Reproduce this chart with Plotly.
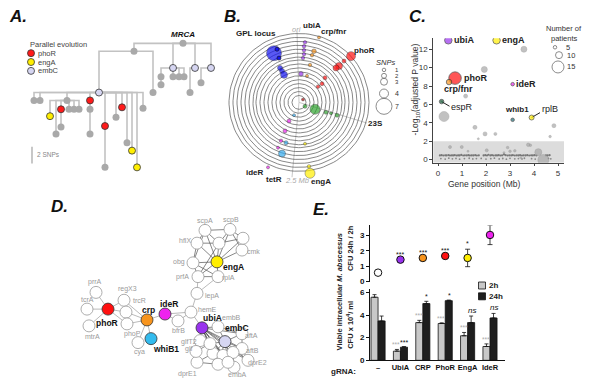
import plotly.graph_objects as go
import numpy as np

FONT = "Liberation Sans, Arial, sans-serif"

# ---------------- Panel A : phylogeny (pixel layout) ----------------
tree_x = [183, 134, 173, 195, 211, 99, 153, 161, 161, 173, 179, 184, 190, 201,
          34, 40, 67, 50, 56, 61, 61, 69, 74, 79, 90, 90, 90, 105, 105, 116, 122, 127, 132, 137, 143]
tree_y = [43, 51, 68, 68, 68, 93, 93, 77, 85, 77, 77, 77, 93, 83,
          101, 101, 101, 117, 135, 110, 128, 110, 110, 110, 101, 110, 135, 127, 169, 118, 108, 144, 152, 169, 109]
tree_parent = [-1, 0, 0, 0, 0, 1, 1, 2, 7, 2, 2, 2, 3, 4,
               5, 5, 5, 16, 16, 16, 19, 16, 16, 16, 5, 24, 25, 5, 27, 5, 5, 5, 5, 5, 5]
tree_kind = ['g', 'g', 'l', 'l', 'l', 'l', 'g', 'g', 'g', 'g', 'g', 'g', 'g', 'g',
             'g', 'g', 'g', 'y', 'g', 'r', 'g', 'g', 'g', 'g', 'r', 'g', 'g', 'r', 'g', 'g', 'r', 'g', 'y', 'y', 'g']
KIND_COL = {'g': '#a9a9a9', 'r': '#ff1a1a', 'y': '#ffee00', 'l': '#d6d6f2'}
legendA_names = ['phoR', 'engA', 'embC']
legendA_kind = ['r', 'y', 'l']

# ---------------- Panel B : circular genome plot ----------------
ring_radii = [7, 11, 15, 19, 23, 27, 31, 35, 39, 43, 46, 50, 54, 58, 62, 66, 70]
B_center = (299, 103)
B_radial_end_x = [297, 292, 367]
B_radial_end_y = [31, 179, 124]
B_px = [274, 280, 282, 284, 305, 304, 304, 304, 303, 301, 319, 314, 312, 310, 307,
        351, 344, 339, 336, 325, 322, 318, 303, 305, 315, 326, 331, 337, 294, 286, 282,
        289, 285, 281, 278, 268, 305, 309, 310]
B_py = [53, 68, 71, 75, 42, 46, 50, 54, 58, 74, 37, 51, 55, 65, 76,
        56, 61, 66, 68, 78, 84, 87, 100, 107, 110, 113, 114, 116, 116, 144, 155,
        122, 132, 142, 149, 169, 145, 168, 175]
B_size = [15, 5, 5, 7, 3.5, 3.5, 3.5, 3.5, 3.5, 4.5, 3, 4.5, 3.5, 3.5, 3,
          9, 4, 7, 6, 4, 4, 3.5, 3, 4, 10, 4, 3, 4, 3, 4, 7,
          4, 4, 3.5, 3, 3, 3, 3.5, 10]
B_col = ['#1414f0'] * 4 + ['#9933ee'] * 6 + ['#f7941d'] * 5 + ['#ff1010'] * 7 + ['#aa0000'] + \
        ['#2ea32e'] * 5 + ['#33aaee'] * 3 + ['#ee22ee'] * 5 + ['#ffee00'] * 3
snp_levels = ['1', '2', '3', '4', '7']
snp_sizes = [3.5, 5, 7, 9, 16]
snp_y = [70, 76, 82, 94, 107]

# ---------------- Panel C : scatter ----------------
c_lab_name = ['ubiA', 'engA', 'phoR', 'crp/fnr', 'ideR', 'espR', 'whib1', 'rplB']
c_lab_x = [0.43, 2.44, 0.71, 0.46, 3.11, 0.15, 3.11, 3.90]
c_lab_y = [12.97, 12.97, 8.86, 8.43, 8.2, 6.3, 4.32, 4.57]
c_lab_size = [7.5, 7.5, 12.5, 5.5, 3.5, 4.5, 3.5, 5]
c_lab_col = ['#9933ee', '#ffee00', '#ff1010', '#f7941d', '#ee22ee', '#1a5c3a', '#1f6f7a', '#ffee00']
c_gray_x = [3.58, 1.93, 1.15, 0.25, 4.83, 1.54, 1.96, 2.39, 4.67, 1.68,
            0.50, 0.99, 2.03, 3.76, 3.85, 4.18, 4.39, 2.90, 3.00, 3.20, 2.75, 1.25, 3.45]
c_gray_y = [12.0, 9.8, 6.9, 4.68, 3.68, 3.5, 2.79, 2.79, 2.5, 2.25,
            1.36, 1.36, 1.0, 1.6, 1.55, 0.8, -0.05, 1.3, 0.9, 0.95, 0.75, 0.9, 0.2]
c_gray_size = [6, 6, 4, 10, 4, 4, 4, 3, 2.5, 2,
               3, 3, 3, 3.5, 2.5, 7, 11, 2.5, 2.5, 2.5, 2, 2, 2]
c_row1_x = [0.08, 0.15, 0.22, 0.30, 0.36, 0.44, 0.50, 0.57, 0.63, 0.70, 0.78, 0.84, 0.90, 0.97,
            1.05, 1.12, 1.20, 1.27, 1.33, 1.40, 1.47, 1.55, 1.62, 1.70, 1.90, 1.97, 2.04, 2.10,
            2.18, 2.25, 2.32, 2.40, 2.46, 2.53, 2.60, 2.67, 2.75, 2.82, 2.90, 2.97, 3.05, 3.12,
            3.20, 3.28, 3.35, 3.42, 3.50, 3.57, 3.65, 3.72, 3.80, 3.88, 3.95, 4.02, 4.10, 4.50,
            4.57, 4.65]
c_row1_y = [0.45, 0.47, 0.44, 0.46, 0.45, 0.48, 0.44, 0.46, 0.45, 0.47, 0.44, 0.46, 0.45, 0.50,
            0.44, 0.46, 0.45, 0.47, 0.44, 0.46, 0.45, 0.47, 0.44, 0.46, 0.45, 0.47, 0.44, 0.52,
            0.45, 0.47, 0.44, 0.46, 0.45, 0.47, 0.44, 0.46, 0.55, 0.47, 0.44, 0.46, 0.45, 0.47,
            0.44, 0.46, 0.45, 0.47, 0.44, 0.46, 0.45, 0.47, 0.44, 0.46, 0.45, 0.47, 0.44, 0.46,
            0.45, 0.47]
c_row2_x = [0.12, 0.30, 0.45, 0.60, 0.75, 0.90, 1.10, 1.30, 1.45, 1.60, 1.80, 2.00, 2.20, 2.35,
            2.55, 2.70, 2.85, 3.00, 3.20, 3.35, 3.50, 3.60, 3.90, 4.05, 4.60, 4.70]
c_row2_y = [0.10, 0.05, 0.15, 0.08, 0.12, 0.04, 0.10, 0.14, 0.06, 0.10, 0.12, 0.05, 0.09, 0.15,
            0.07, 0.11, 0.04, 0.13, 0.08, 0.10, 0.06, 0.14, 0.09, 0.05, 0.12, 0.08]
pat_levels = ['5', '10', '15']
pat_sizes = [3.5, 7, 12]
pat_y = [47, 55, 67]

# ---------------- Panel D : network (pixel layout) ----------------
d_name = ['phoR', 'prrA', 'tcrA', 'mtrA', 'regX3', 'trcR', 'phoP', 'crp', 'cya', 'whiB1',
          'ideR', 'bfrB', 'hemE', 'ubiA', 'lepA', 'prfA', 'rplA', 'obg', 'engA', 'hflX',
          'scpA', 'scpB', 'cmk', 'k1', 'k2', 'embB', 'embC', 'aftA', 'aftB', 'dprE2',
          'embA', 'dprE1', 'glfT2', 'glf', 'h1', 'h2', 'h3', 'h4', 'h5', 'h6']
d_x = [108, 96, 87, 89, 124, 126, 127, 147, 138, 151,
       165, 178, 191, 202, 197, 198, 218, 193, 217, 197,
       205, 230, 242, 219, 243, 218, 225, 242, 242, 248,
       234, 197, 200, 196, 213, 223, 233, 218, 228, 210]
d_y = [313, 296, 313, 330, 304, 316, 328, 324, 347, 343,
       318, 325, 316, 332, 297, 280, 280, 266, 265, 246,
       233, 232, 253, 246, 241, 331, 346, 338, 353, 365,
       372, 367, 345, 356, 358, 360, 357, 369, 367, 348]
d_col = ['#ff1010', None, None, None, None, None, None, '#f7941d', None, '#33bbee',
         '#ee22ee', None, None, '#9933ee', None, None, None, None, '#ffee00', None,
         None, None, None, None, None, None, '#d6d6f2', None, None, None,
         None, None, None, None, None, None, None, None, None, None]
d_lx = [107, 95, 87, 92, 127, 139, 132, 148, 139, 166,
        169, 178, 207, 212, 212, 182, 228, 179, 233, 185,
        205, 231, 253, None, None, 231, 237, 251, 252, 257,
        237, 187, 189, 188, None, None, None, None, None, None]
d_ly = [327, 285, 303, 341, 293, 304, 338, 314, 357, 353,
        308, 335, 313, 322, 300, 280, 281, 265, 270, 243,
        223, 222, 254, None, None, 322, 332, 340, 355, 368,
        379, 379, 346, 353, None, None, None, None, None, None]
d_edges_light = [('phoR', 'prrA'), ('phoR', 'tcrA'), ('phoR', 'mtrA'), ('phoR', 'regX3'),
                 ('phoR', 'trcR'), ('phoR', 'phoP'), ('crp', 'trcR'), ('crp', 'phoP'),
                 ('crp', 'regX3'), ('crp', 'cya'), ('crp', 'whiB1'), ('crp', 'ideR'),
                 ('ideR', 'bfrB'), ('ideR', 'hemE'), ('bfrB', 'hemE'), ('hemE', 'ubiA'),
                 ('hemE', 'lepA'), ('lepA', 'prfA'), ('lepA', 'rplA'), ('ubiA', 'glfT2'),
                 ('ubiA', 'glf'), ('ubiA', 'dprE1'), ('glf', 'dprE1'), ('glf', 'glfT2')]
d_edges_dark = [('prfA', 'obg'), ('prfA', 'engA'), ('prfA', 'rplA'), ('obg', 'engA'), ('obg', 'hflX'),
                ('hflX', 'engA'), ('hflX', 'scpA'), ('scpA', 'engA'), ('scpA', 'scpB'), ('scpB', 'engA'),
                ('scpB', 'k2'), ('k2', 'cmk'), ('cmk', 'engA'), ('k1', 'engA'), ('k1', 'scpA'),
                ('k1', 'scpB'), ('k1', 'k2'), ('k1', 'hflX'), ('rplA', 'engA'), ('obg', 'scpA'),
                ('engA', 'k2'), ('prfA', 'k1'), ('obg', 'rplA'), ('scpB', 'cmk'),
                ('ubiA', 'embC'), ('ubiA', 'embB'), ('ubiA', 'aftA'), ('ubiA', 'aftB'), ('ubiA', 'dprE2'),
                ('ubiA', 'embA'), ('ubiA', 'h1'), ('ubiA', 'h2'), ('ubiA', 'h3'), ('ubiA', 'h4'),
                ('ubiA', 'h5'), ('ubiA', 'h6'), ('embC', 'embB'), ('embC', 'aftA'), ('embC', 'aftB'),
                ('embC', 'dprE2'), ('embC', 'embA'), ('embC', 'h1'), ('embC', 'h4'), ('embC', 'h5'),
                ('embC', 'h6'), ('h1', 'h2'), ('h2', 'h3'), ('h3', 'h5'), ('h4', 'h5'), ('h1', 'h4'),
                ('h2', 'h5'), ('h6', 'h1'), ('h6', 'h2'), ('h3', 'aftB'), ('h5', 'embA'), ('h4', 'embA'),
                ('h3', 'dprE2'), ('h1', 'dprE1'), ('aftA', 'aftB'), ('aftB', 'dprE2'), ('embB', 'aftA'),
                ('h2', 'embA'), ('h3', 'embA'), ('h4', 'dprE1'), ('h6', 'glf'), ('h2', 'aftB')]

# ---------------- Panel E : knock-down ----------------
e_cats = ['–', 'UbiA', 'CRP', 'PhoR', 'EngA', 'IdeR']
e_ratio = [0.58, 1.43, 1.54, 1.67, 1.54, 3.04]
e_ratio_err = [0, 0, 0, 0, 0.57, 0.63]
e_ratio_col = ['white', '#9933ee', '#f7941d', '#ff1010', '#ffee00', '#ee22ee']
e_ratio_sig = ['', '***', '***', '***', '*', '***']
e_2h = [5.57, 0.81, 3.33, 3.25, 2.17, 1.22]
e_2h_err = [0.23, 0.15, 0.2, 0.06, 0.29, 0.23]
e_24h = [3.48, 1.16, 5.01, 5.27, 3.33, 3.74]
e_24h_err = [0.43, 0.05, 0.2, 0.05, 0.58, 0.4]
e_2h_sig = ['', '***', '***', '***', '***', '***']
e_24h_sig = ['', '***', '*', '*', '<i>ns</i>', '<i>ns</i>']

# ======================================================================
fig = go.Figure()
ann = []


def T(x, y, text, size=8, color='#222', xa='center', ya='middle', angle=0,
      xref='x', yref='y', xshift=0, yshift=0):
    ann.append(dict(x=x, y=y, xref=xref, yref=yref, text=text, showarrow=False,
                    font=dict(family=FONT, size=size, color=color), xanchor=xa, yanchor=ya,
                    textangle=angle, xshift=xshift, yshift=yshift, borderpad=0))


def px(**kw):
    fig.add_trace(go.Scatter(xaxis='x', yaxis='y', showlegend=False, hoverinfo='skip', **kw))


# ---- Panel letters
for lx, ly, lt in [(18, 16, 'A.'), (232, 16, 'B.'), (417, 16, 'C.'), (59, 209, 'D.'), (321, 212, 'E.')]:
    T(lx, ly, '<b><i>' + lt + '</i></b>', size=17, color='#111')

# ---- Panel A
ex, ey = [], []
for i, p in enumerate(tree_parent):
    if p < 0:
        continue
    ex += [tree_x[p], tree_x[i], tree_x[i], None]
    ey += [tree_y[p], tree_y[p], tree_y[i], None]
px(x=ex, y=ey, mode='lines', line=dict(color='#c2c2c2', width=1.6))
for k in ['g', 'r', 'y', 'l']:
    idx = [i for i, kk in enumerate(tree_kind) if kk == k]
    px(x=[tree_x[i] for i in idx], y=[tree_y[i] for i in idx], mode='markers',
       marker=dict(size=7, color=KIND_COL[k],
                   line=dict(color='#333' if k != 'g' else KIND_COL[k], width=0.8 if k != 'g' else 0)))
T(183, 34, '<b><i>MRCA</i></b>', size=8, color='#111')
T(29, 44, 'Parallel evolution', size=7.5, color='#444', xa='left')
px(x=[31, 31, 31], y=[53, 62, 71], mode='markers',
   marker=dict(size=7, color=[KIND_COL[k] for k in legendA_kind], line=dict(color='#333', width=0.8)))
for n, yy in zip(legendA_names, [53, 62, 71]):
    T(37, yy, n, size=7.5, color='#444', xa='left')
px(x=[32, 32], y=[148, 165], mode='lines', line=dict(color='#aaa', width=1.3))
T(36, 156, '2 SNPs', size=6.5, color='#888', xa='left')

# ---- Panel B
cx, cy = B_center
t = np.linspace(0, 2 * np.pi, 120)
rx, ry = [], []
for r in ring_radii:
    rx += list(cx + r * np.cos(t)) + [None]
    ry += list(cy + r * np.sin(t)) + [None]
gx, gy = [], []
for x1, y1 in zip(B_radial_end_x, B_radial_end_y):
    gx += [cx, x1, None]
    gy += [cy, y1, None]
px(x=gx, y=gy, mode='lines', line=dict(color='#c8c8c8', width=1))
px(x=rx, y=ry, mode='lines', line=dict(color='#555', width=0.7))
px(x=B_px, y=B_py, mode='markers',
   marker=dict(size=B_size, color=B_col, line=dict(color='#222', width=0.5)))
px(x=[277, 279], y=[49, 58], mode='markers',
   marker=dict(size=4, color='#1414f0', line=dict(color='#111', width=0.6)))
T(256, 33, '<b>GPL locus</b>', size=8)
T(296, 29, '<i>ori</i>', size=7.5, color='#aaa')
T(312, 25, '<b>ubiA</b>', size=8)
T(333, 31, '<b>crp/fnr</b>', size=8)
T(364, 50, '<b>phoR</b>', size=8)
T(375, 124, '<b>23S</b>', size=8)
T(255, 174, '<b>ideR</b>', size=8)
T(274, 181, '<b>tetR</b>', size=8)
T(297, 182, '<i>2.5 Mb</i>', size=7.5, color='#aaa')
T(321, 183, '<b>engA</b>', size=8)
T(385, 62, '<i>SNPs</i>', size=7.5, color='#333')
px(x=[384] * 5, y=snp_y, mode='markers',
   marker=dict(size=snp_sizes, color='white', line=dict(color='#333', width=0.8)))
for lv, yy in zip(snp_levels, snp_y):
    T(394, yy, lv, size=6 if lv in ('1', '2', '3') else 7, color='#333', xa='left')

# ---- Panel C
fig.add_shape(type='rect', xref='x2', yref='y2', x0=-0.2, x1=5.25, y0=-0.35, y1=2,
              fillcolor='#dcdcdc', line=dict(width=0), layer='below')
fig.add_trace(go.Scatter(x=c_row1_x, y=c_row1_y, xaxis='x2', yaxis='y2', mode='markers',
                         marker=dict(size=2.2, color='#777'), showlegend=False, hoverinfo='skip'))
fig.add_trace(go.Scatter(x=c_row2_x, y=c_row2_y, xaxis='x2', yaxis='y2', mode='markers',
                         marker=dict(size=1.8, color='#888'), showlegend=False, hoverinfo='skip'))
fig.add_trace(go.Scatter(x=c_gray_x, y=c_gray_y, xaxis='x2', yaxis='y2', mode='markers',
                         marker=dict(size=c_gray_size, color='#a8a8a8', line=dict(color='#8a8a8a', width=0.5)),
                         showlegend=False, hoverinfo='skip'))
fig.add_trace(go.Scatter(x=[0.15, 0.48, None, 3.9, 4.25], y=[6.3, 5.8, None, 4.57, 5.1],
                         xaxis='x2', yaxis='y2', mode='lines', line=dict(color='#222', width=1),
                         showlegend=False, hoverinfo='skip'))
fig.add_trace(go.Scatter(x=c_lab_x, y=c_lab_y, xaxis='x2', yaxis='y2', mode='markers',
                         marker=dict(size=c_lab_size, color=c_lab_col, line=dict(color='#222', width=0.8)),
                         showlegend=False, hoverinfo='skip'))
C_lab_pos = {'ubiA': (0.62, 12.97, 'left'), 'engA': (2.62, 12.97, 'left'), 'phoR': (1.05, 8.86, 'left'),
             'crp/fnr': (0.87, 7.65, 'center'), 'ideR': (3.22, 8.2, 'left'), 'espR': (0.52, 5.75, 'left'),
             'whib1': (3.28, 5.47, 'center'), 'rplB': (4.3, 5.45, 'left')}
for n in c_lab_name:
    x0, y0, a = C_lab_pos[n]
    txt = n if n in ('espR', 'rplB') else '<b>' + n + '</b>'
    T(x0, y0, txt, size=9 if n not in ('whib1',) else 8, color='#222', xa=a, xref='x2', yref='y2')
T(416, 90, '-Log<sub>10</sub>(adjusted P value)', size=8.5, color='#333', angle=-90)
T(484, 186, 'Gene position (Mb)', size=8.5, color='#333')
T(564, 28, 'Number of', size=7.5, color='#333')
T(564, 38, 'patients', size=7.5, color='#333')
px(x=[555, 559, 558], y=pat_y, mode='markers',
   marker=dict(size=pat_sizes, color='white', line=dict(color='#333', width=0.8)))
for lv, yy, xx in zip(pat_levels, pat_y, [565, 566, 566]):
    T(xx, yy, lv, size=7.5, color='#333', xa='left')

# ---- Panel D
pos = {n: (x, y) for n, x, y in zip(d_name, d_x, d_y)}
for edges, col, w in [(d_edges_light, '#a8a8a8', 0.8), (d_edges_dark, '#555', 0.7)]:
    xs, ys = [], []
    for a, b in edges:
        xs += [pos[a][0], pos[b][0], None]
        ys += [pos[a][1], pos[b][1], None]
    px(x=xs, y=ys, mode='lines', line=dict(color=col, width=w))
px(x=d_x, y=d_y, mode='markers',
   marker=dict(size=12, color=[c if c else 'white' for c in d_col],
               line=dict(color=['#333' if c else '#999' for c in d_col], width=0.8)))
for n, lx, ly, c in zip(d_name, d_lx, d_ly, d_col):
    if lx is None:
        continue
    if c:
        T(lx, ly, '<b>' + n + '</b>', size=8.5, color='#111')
    else:
        T(lx, ly, n, size=7, color='#9a9a9a')

# ---- Panel E
fig.add_trace(go.Scatter(x=e_cats, y=e_ratio, xaxis='x3', yaxis='y3', mode='markers',
                         marker=dict(size=7.5, color=e_ratio_col, line=dict(color='#111', width=1)),
                         error_y=dict(type='data', array=e_ratio_err, color='#111', thickness=0.8, width=2.5),
                         showlegend=False, hoverinfo='skip'))
for c, v, e, s in zip(e_cats, e_ratio, e_ratio_err, e_ratio_sig):
    if s:
        T(c, v + e, s, size=7, color='#111', ya='bottom', xref='x3', yref='y3', yshift=1)
fig.add_trace(go.Bar(x=e_cats, y=e_2h, xaxis='x4', yaxis='y4', marker=dict(color='#c8c8c8', line=dict(color='#111', width=0.8)),
                     error_y=dict(type='data', array=e_2h_err, arrayminus=[0] * 6, symmetric=False,
                                  color='#111', thickness=0.8, width=2),
                     showlegend=False, hoverinfo='skip'))
fig.add_trace(go.Bar(x=e_cats, y=e_24h, xaxis='x4', yaxis='y4', marker=dict(color='#1e1e1e', line=dict(color='#111', width=0.8)),
                     error_y=dict(type='data', array=e_24h_err, arrayminus=[0] * 6, symmetric=False,
                                  color='#111', thickness=0.8, width=2),
                     showlegend=False, hoverinfo='skip'))
for c, v, e, s in zip(e_cats, e_2h, e_2h_err, e_2h_sig):
    if s:
        T(c, v + e, s, size=6.5, color='#aaa', ya='bottom', xref='x4', yref='y4', xshift=-4, yshift=0)
for c, v, e, s in zip(e_cats, e_24h, e_24h_err, e_24h_sig):
    if s:
        T(c, v + e, s, size=7 if 'ns' not in s else 8, color='#111', ya='bottom', xref='x4', yref='y4', xshift=4, yshift=0)
px(x=[482, 482], y=[289, 300], mode='markers',
   marker=dict(size=7, symbol='square', color=['#c8c8c8', '#1e1e1e'], line=dict(color='#111', width=0.8)))
T(488, 289, '<b>2h</b>', size=8, xa='left')
T(488, 300, '<b>24h</b>', size=8, xa='left')
T(339, 296, '<b>Viable intracellular <i>M. abscessus</i></b>', size=7.5, angle=-90)
T(350, 251, '<b>CFU 24h / 2h</b>', size=7.5, angle=-90)
T(350, 329, '<b>CFU x 10<sup>4</sup>/ ml</b>', size=7.5, angle=-90)
T(343, 376, '<b>gRNA:</b>', size=8)

axfont = dict(family=FONT, size=8, color='#333')
hid = dict(visible=False, showgrid=False, zeroline=False, fixedrange=True)
fig.update_layout(
    width=600, height=385, margin=dict(l=0, r=0, t=0, b=0),
    paper_bgcolor='white', plot_bgcolor='rgba(0,0,0,0)', showlegend=False,
    font=dict(family=FONT),
    barmode='group', bargap=0.37, bargroupgap=0,
    xaxis=dict(domain=[0, 1], range=[0, 600], **hid),
    yaxis=dict(domain=[0, 1], range=[385, 0], **hid),
    xaxis2=dict(domain=[433.2 / 600, 564 / 600], range=[-0.2, 5.25], anchor='y2',
                tickvals=[0, 1, 2, 3, 4, 5], ticks='outside', ticklen=2, tickcolor='#444',
                showline=True, linecolor='#444', linewidth=1.5, showgrid=False, zeroline=False,
                tickfont=axfont),
    yaxis2=dict(domain=[1 - 164.3 / 385, 1 - 37.8 / 385], range=[-0.35, 13.2], anchor='x2',
                tickvals=[0, 2, 4, 6, 8, 10, 12], ticks='outside', ticklen=3, tickcolor='#444',
                showline=True, linecolor='#444', linewidth=1, showgrid=False, zeroline=False,
                tickfont=axfont),
    xaxis3=dict(domain=[370 / 600, 505 / 600], range=[-0.36, 5.67], anchor='y3', type='category',
                categoryorder='array', categoryarray=e_cats, visible=False),
    yaxis3=dict(domain=[1 - 285 / 385, 1 - 228 / 385], range=[0, 3.66], anchor='x3',
                tickvals=[0, 1, 2, 3], ticktext=['<b>0</b>', '<b>1</b>', '<b>2</b>', '<b>3</b>'],
                ticks='outside', ticklen=3, tickcolor='#111', showline=True, linecolor='#111', linewidth=1,
                showgrid=False, zeroline=False, tickfont=dict(family=FONT, size=8, color='#111')),
    xaxis4=dict(domain=[370 / 600, 505 / 600], range=[-0.36, 5.67], anchor='y4', type='category',
                categoryorder='array', categoryarray=e_cats, showline=True, linecolor='#111', linewidth=1,
                ticks='', tickvals=e_cats, ticktext=['<b>' + c + '</b>' for c in e_cats], tickangle=0,
                tickfont=dict(family=FONT, size=7.5, color='#111'), showgrid=False, zeroline=False),
    yaxis4=dict(domain=[1 - 365 / 385, 1 - 293 / 385], range=[0, 6.26], anchor='x4',
                tickvals=[0, 2, 4, 6], ticktext=['<b>0</b>', '<b>2</b>', '<b>4</b>', '<b>6</b>'],
                ticks='outside', ticklen=3, tickcolor='#111', showline=True, linecolor='#111', linewidth=1,
                showgrid=False, zeroline=False, tickfont=dict(family=FONT, size=8, color='#111')),
    annotations=ann,
)
fig.write_html("out.html", config={'displayModeBar': False, 'staticPlot': True},
               post_script="document.body.style.margin='0';document.body.style.padding='0';"
                           "document.body.style.overflow='hidden';")
